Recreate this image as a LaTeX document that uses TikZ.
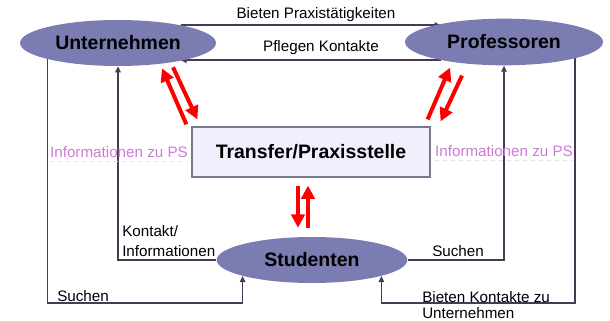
\documentclass[tikz,border=0pt]{standalone}
\usepackage{fontspec}
\setmainfont{Liberation Sans}
\usetikzlibrary{shapes.geometric,arrows.meta,calc,backgrounds}
\definecolor{ellfill}{RGB}{122,124,178}
\definecolor{boxfill}{RGB}{240,240,252}
\definecolor{boxline}{RGB}{120,120,140}
\definecolor{conncol}{RGB}{72,58,82}
\definecolor{infocol}{RGB}{204,122,214}
\definecolor{infodash}{RGB}{236,220,240}
\begin{document}
\begin{tikzpicture}[x=0.75pt,y=-0.75pt,
  ell/.style={ellipse, fill=ellfill, inner sep=0pt, font=\fontsize{14.6}{16}\selectfont\bfseries},
  tbox/.style={rectangle, fill=boxfill, draw=boxline, line width=0.9pt, minimum width=178.5pt, minimum height=37.5pt, inner sep=0pt, font=\fontsize{14.6}{16}\selectfont\bfseries},
  lbl/.style={inner sep=0pt, font=\fontsize{11.4}{13}\selectfont},
  info/.style={lbl, text=infocol},
  conn/.style={draw=conncol, line width=1.1pt, -{Triangle[length=4.5pt,width=4pt]}},
  redarr/.style={draw=red, line width=3pt, -{Triangle[length=10pt,width=10pt]}},
  infoline/.style={draw=infodash, line width=0.7pt, dashed},
]
\useasboundingbox (0,0) rectangle (610,321);
\node[ell, minimum width=147pt, minimum height=34.5pt] (U) at (118,43) {Unternehmen};
\node[ell, minimum width=148.5pt, minimum height=35pt] (P) at (504,42) {Professoren};
\node[ell, minimum width=143pt, minimum height=34.5pt] (S) at (312,260) {Studenten};
\node[tbox] (T) at (311,152) {Transfer/Praxisstelle};
\coordinate (bottom) at (0,303);

\node[lbl] (lb1) at (316,15) {Bieten Praxistätigkeiten};
\node[lbl] (lb2) at (321,48) {Pflegen Kontakte};
\node[info] (il) at (119,152) {Informationen zu PS};
\node[info] (ir) at (504,151) {Informationen zu PS};
\node[lbl, anchor=west] (lsl) at (57,296) {Suchen};
\node[lbl, anchor=west, align=left, font=\fontsize{11.4}{15}\selectfont] (lki) at (122,241) {Kontakt/\\Informationen};
\node[lbl, anchor=west] (lsr) at (432,251) {Suchen};
\node[lbl, anchor=west, align=left, font=\fontsize{11.4}{11.4}\selectfont] (lbk) at (422,305) {Bieten Kontakte zu\\Unternehmen};

\begin{scope}[on background layer]
\draw[conn] (U.16) -- (U.16 -| P.164);
\draw[conn] (P.196) -- (P.196 -| U.-16);
\draw[conn] (U.193) -- (U.193 |- bottom) -| (S.193);
\draw[conn] (S.west) -| (U.south);
\draw[conn] (S.east) -| (P.south);
\draw[conn] (P.347) -- (P.347 |- bottom) -| (S.347);
\draw[infoline] ($(il.south west)+(0,4)$) -- ($(il.south east)+(0,4)$);
\draw[infoline] ($(ir.south west)+(0,4)$) -- ($(ir.south east)+(0,4)$);
\end{scope}

\draw[redarr] ($(U.south)+(55,1)$) -- ($(T.north west)+(6,-7)$);
\draw[redarr] ($(T.north west)+(-5,-2)$) -- ($(U.south)+(44,2)$);
\draw[redarr] ($(P.south)+(-42,10)$) -- ($(T.north east)+(10,-5)$);
\draw[redarr] ($(T.north east)+(-3,-7)$) -- ($(P.south)+(-54,2)$);
\draw[redarr] ($(T.south)+(-13,8)$) -- ($(S.north)+(-14,-9)$);
\draw[redarr] ($(S.north)+(-4,-9)$) -- ($(T.south)+(-3,8)$);
\end{tikzpicture}
\end{document}
